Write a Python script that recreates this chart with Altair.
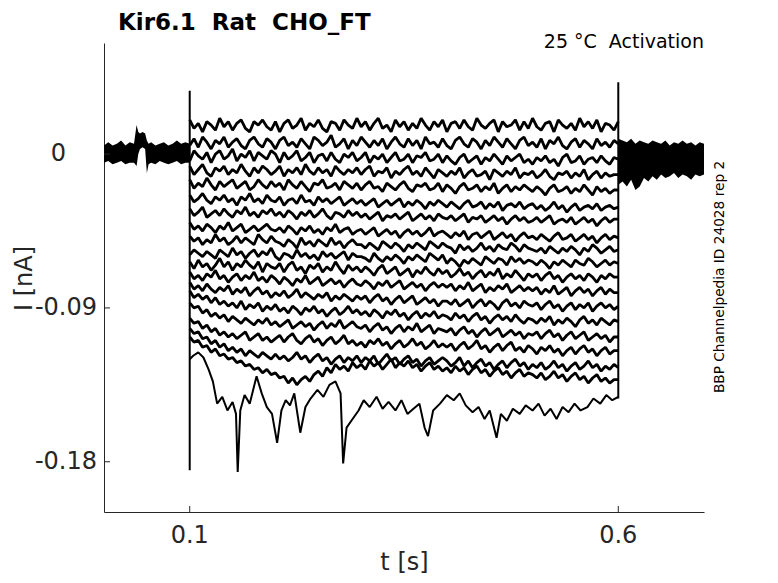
import altair as alt
import pandas as pd

# ---------------- data (current in pA) ----------------
T_GRID = [0.100, 0.105, 0.110, 0.115, 0.120, 0.125, 0.130, 0.135, 0.140, 0.145,
          0.150, 0.155, 0.160, 0.165, 0.170, 0.175, 0.180, 0.185, 0.190, 0.195,
          0.200, 0.205, 0.210, 0.215, 0.220, 0.225, 0.230, 0.235, 0.240, 0.245,
          0.250, 0.255, 0.260, 0.265, 0.270, 0.275, 0.280, 0.285, 0.290, 0.295,
          0.300, 0.305, 0.310, 0.315, 0.320, 0.325, 0.330, 0.335, 0.340, 0.345,
          0.350, 0.355, 0.360, 0.365, 0.370, 0.375, 0.380, 0.385, 0.390, 0.395,
          0.400, 0.405, 0.410, 0.415, 0.420, 0.425, 0.430, 0.435, 0.440, 0.445,
          0.450, 0.455, 0.460, 0.465, 0.470, 0.475, 0.480, 0.485, 0.490, 0.495,
          0.500, 0.505, 0.510, 0.515, 0.520, 0.525, 0.530, 0.535, 0.540, 0.545,
          0.550, 0.555, 0.560, 0.565, 0.570, 0.575, 0.580, 0.585, 0.590, 0.595,
          0.600]

I01 = [20, 15, 18, 13, 19, 17, 14, 21, 16, 19, 14, 18, 20, 15, 13, 19, 17, 20, 16, 14,
       19, 13, 18, 20, 15, 17, 21, 14, 18, 16, 20, 15, 13, 19, 18, 14, 20, 17, 15, 21,
       16, 19, 14, 18, 21, 15, 17, 13, 20, 16, 19, 14, 18, 15, 21, 17, 14, 19, 16, 20,
       13, 18, 19, 15, 20, 16, 14, 21, 17, 15, 18, 20, 13, 19, 16, 17, 20, 14, 19, 15,
       21, 16, 14, 18, 19, 13, 20, 17, 15, 18, 14, 21, 16, 19, 15, 20, 13, 18, 17, 14,
       19]
I02 = [5, 9, 4, 10, 7, 3, 8, 6, 10, 4, 7, 9, 5, 3, 8, 10, 6, 4, 9, 7,
       3, 8, 10, 5, 7, 4, 9, 6, 3, 10, 8, 5, 7, 11, 4, 6, 9, 3, 8, 5,
       10, 7, 4, 8, 5, 9, 3, 7, 10, 6, 4, 9, 5, 8, 3, 10, 6, 7, 4, 9,
       5, 3, 8, 10, 6, 4, 9, 7, 3, 8, 5, 10, 7, 4, 9, 6, 3, 8, 10, 5,
       7, 4, 9, 3, 8, 6, 10, 5, 3, 7, 9, 4, 8, 6, 3, 9, 5, 7, 4, 8,
       6]
I03 = [-4, 2, -1, -3, 1, -5, 0, 2, -3, -1, 3, -4, 0, -2, 2, -4, 1, -1, -3, 2,
       0, -5, 1, -3, -1, 2, -4, -2, 1, -5, -1, 0, -4, 1, -3, -5, 0, -2, 1, -4,
       -2, 1, -5, -1, -3, 0, -5, -2, 1, -4, -3, 0, -5, -1, -2, 1, -4, -3, 0, -5,
       -1, -4, -6, -2, 0, -5, -3, -1, -6, -2, -4, 0, -3, -6, -1, -4, -2, 0, -5, -3,
       -6, -2, -4, -1, -5, -3, -7, -2, 0, -5, -4, -1, -6, -3, -2, -5, -1, -4, -6, -2,
       -3]
I04 = [-7, -12, -9, -6, -11, -13, -8, -10, -7, -12, -9, -11, -6, -10, -13, -8, -11, -7, -9, -12,
       -10, -7, -13, -9, -11, -8, -12, -6, -10, -12, -8, -11, -9, -13, -7, -10, -12, -9, -11, -8,
       -12, -9, -7, -13, -10, -11, -8, -14, -10, -12, -9, -7, -12, -10, -13, -8, -11, -14, -9, -11,
       -13, -10, -12, -8, -14, -11, -9, -13, -12, -10, -15, -9, -11, -13, -10, -12, -8, -14, -11, -12,
       -10, -14, -12, -9, -13, -15, -11, -12, -10, -14, -11, -13, -9, -15, -12, -10, -14, -11, -13, -12,
       -12]
I05 = [-15, -20, -17, -19, -14, -18, -21, -16, -19, -17, -15, -20, -18, -16, -21, -19, -15, -18, -20, -16,
       -19, -17, -21, -15, -18, -20, -16, -19, -22, -17, -18, -15, -20, -19, -17, -21, -16, -18, -20, -17,
       -21, -18, -16, -20, -19, -22, -17, -19, -21, -18, -16, -20, -22, -18, -19, -17, -21, -20, -17, -22,
       -18, -20, -23, -19, -17, -21, -20, -18, -22, -19, -21, -17, -23, -20, -18, -22, -19, -21, -18, -20,
       -22, -19, -21, -24, -20, -18, -22, -21, -19, -23, -20, -22, -18, -21, -24, -19, -22, -20, -23, -21,
       -21]
I06 = [-24, -28, -26, -23, -27, -29, -25, -27, -24, -28, -26, -30, -25, -27, -23, -28, -26, -29, -24, -27,
       -28, -25, -30, -27, -26, -29, -24, -28, -27, -30, -25, -28, -26, -29, -27, -25, -30, -28, -26, -29,
       -27, -30, -28, -26, -31, -29, -27, -30, -28, -26, -31, -28, -30, -27, -29, -32, -28, -30, -27, -29,
       -31, -28, -30, -32, -29, -27, -31, -30, -28, -32, -29, -31, -28, -33, -30, -29, -31, -28, -32, -30,
       -29, -32, -30, -33, -31, -28, -32, -30, -34, -31, -29, -33, -31, -30, -32, -29, -33, -31, -30, -32,
       -31]
I07 = [-32, -36, -34, -31, -37, -35, -33, -36, -32, -35, -37, -33, -35, -31, -36, -34, -37, -33, -35, -32,
       -36, -34, -37, -33, -35, -38, -34, -36, -33, -37, -35, -32, -36, -38, -34, -35, -37, -33, -36, -34,
       -37, -35, -38, -36, -34, -39, -36, -37, -35, -38, -36, -34, -39, -37, -35, -38, -36, -39, -35, -37,
       -38, -36, -39, -37, -35, -40, -37, -38, -36, -40, -38, -36, -39, -37, -41, -38, -36, -39, -37, -40,
       -39, -37, -40, -38, -36, -41, -39, -38, -40, -37, -41, -39, -37, -40, -38, -42, -39, -37, -40, -38,
       -38]
I08 = [-40, -44, -42, -45, -41, -43, -46, -42, -44, -40, -45, -43, -41, -46, -44, -42, -45, -43, -41, -44,
       -45, -43, -46, -42, -44, -47, -43, -45, -42, -46, -44, -47, -43, -45, -41, -46, -44, -43, -47, -45,
       -44, -47, -45, -43, -48, -46, -44, -47, -45, -49, -46, -44, -47, -45, -48, -46, -43, -48, -46, -45,
       -47, -49, -46, -48, -45, -50, -47, -46, -49, -47, -45, -50, -48, -46, -49, -47, -51, -48, -46, -49,
       -48, -50, -47, -49, -51, -48, -46, -50, -49, -47, -51, -49, -47, -50, -48, -52, -49, -47, -50, -48,
       -49]
I09 = [-48, -51, -49, -53, -50, -52, -47, -51, -49, -53, -51, -48, -52, -49, -51, -53, -47, -50, -52, -48,
       -51, -52, -54, -50, -52, -55, -49, -53, -51, -54, -50, -52, -54, -49, -53, -51, -55, -52, -50, -53,
       -53, -55, -52, -54, -56, -51, -53, -55, -52, -54, -57, -53, -55, -52, -54, -56, -51, -53, -55, -52,
       -54, -55, -58, -53, -56, -54, -57, -55, -52, -56, -54, -57, -53, -55, -56, -52, -54, -57, -53, -55,
       -56, -57, -55, -58, -54, -56, -58, -55, -57, -54, -56, -59, -55, -57, -53, -55, -58, -56, -54, -57,
       -56]
I10 = [-59, -56, -58, -60, -57, -59, -61, -56, -58, -60, -55, -59, -57, -61, -58, -56, -60, -57, -59, -55,
       -60, -62, -58, -59, -61, -56, -60, -58, -61, -59, -62, -57, -60, -58, -61, -59, -57, -62, -58, -60,
       -60, -61, -63, -58, -61, -63, -60, -62, -59, -61, -64, -60, -62, -59, -61, -63, -58, -60, -62, -59,
       -64, -61, -63, -66, -62, -64, -61, -63, -65, -60, -62, -64, -61, -62, -65, -60, -63, -61, -64, -62,
       -63, -65, -62, -64, -67, -63, -65, -62, -64, -66, -62, -64, -65, -61, -63, -66, -64, -62, -65, -63,
       -64]
I11 = [-63, -67, -62, -66, -64, -68, -65, -61, -66, -63, -68, -64, -66, -62, -65, -67, -63, -69, -64, -66,
       -67, -64, -69, -65, -63, -68, -66, -70, -65, -67, -64, -69, -66, -68, -63, -67, -70, -65, -68, -66,
       -69, -66, -68, -71, -67, -65, -70, -68, -66, -71, -69, -67, -72, -68, -70, -66, -69, -71, -67, -70,
       -68, -72, -70, -67, -71, -69, -73, -70, -68, -72, -69, -71, -67, -73, -70, -72, -68, -71, -74, -70,
       -72, -70, -74, -71, -69, -73, -71, -75, -72, -70, -73, -71, -74, -70, -72, -75, -71, -73, -70, -72,
       -72]
I12 = [-69, -73, -71, -74, -70, -72, -68, -73, -71, -75, -72, -70, -74, -71, -73, -69, -74, -72, -75, -71,
       -73, -76, -72, -74, -77, -73, -75, -71, -76, -74, -72, -77, -75, -73, -76, -74, -78, -75, -73, -76,
       -77, -74, -76, -79, -75, -77, -74, -78, -76, -74, -79, -77, -75, -78, -76, -80, -77, -75, -78, -76,
       -78, -76, -80, -77, -79, -75, -80, -78, -76, -81, -78, -80, -77, -79, -76, -81, -79, -77, -80, -78,
       -80, -78, -82, -79, -81, -77, -82, -80, -78, -83, -80, -78, -81, -79, -83, -80, -78, -82, -79, -81,
       -81]
I13 = [-75, -79, -77, -80, -76, -79, -81, -78, -80, -77, -82, -79, -81, -78, -83, -80, -78, -82, -80, -84,
       -81, -83, -80, -84, -82, -79, -84, -81, -83, -85, -82, -84, -81, -86, -83, -85, -82, -84, -86, -83,
       -85, -83, -87, -84, -82, -86, -84, -88, -85, -83, -87, -85, -83, -88, -86, -84, -87, -85, -89, -86,
       -86, -88, -85, -89, -87, -85, -90, -87, -85, -89, -86, -88, -91, -87, -85, -89, -87, -90, -86, -88,
       -89, -87, -91, -88, -86, -90, -88, -92, -89, -87, -91, -88, -90, -87, -92, -89, -87, -90, -88, -91,
       -89]
I14 = [-80, -84, -82, -85, -83, -87, -84, -88, -86, -89, -87, -90, -86, -91, -88, -90, -87, -92, -89, -91,
       -88, -92, -90, -93, -89, -91, -94, -90, -92, -89, -93, -91, -95, -92, -90, -94, -92, -89, -93, -91,
       -94, -92, -95, -91, -93, -96, -92, -94, -91, -95, -93, -97, -94, -92, -96, -93, -95, -92, -96, -94,
       -95, -97, -93, -96, -94, -98, -95, -93, -97, -95, -99, -96, -94, -97, -95, -98, -94, -97, -99, -96,
       -97, -99, -96, -98, -95, -100, -97, -99, -96, -98, -101, -97, -95, -99, -97, -100, -96, -98, -100, -97,
       -98]
I15 = [-87, -90, -89, -93, -91, -95, -93, -96, -94, -98, -95, -97, -99, -96, -98, -100, -97, -99, -96, -100,
       -98, -101, -99, -97, -102, -100, -98, -101, -99, -103, -100, -98, -102, -99, -101, -97, -102, -100, -98, -101,
       -102, -100, -104, -101, -99, -103, -101, -105, -102, -100, -104, -101, -103, -99, -104, -102, -100, -105, -102, -103,
       -104, -102, -106, -103, -101, -105, -103, -107, -104, -102, -106, -104, -102, -107, -105, -103, -106, -104, -108, -105,
       -106, -104, -108, -105, -103, -107, -105, -109, -106, -104, -108, -106, -104, -109, -107, -105, -108, -106, -110, -107,
       -107]
I16 = [-96, -99, -98, -102, -100, -104, -102, -106, -104, -107, -105, -108, -106, -104, -109, -107, -105, -109, -107, -110,
       -108, -106, -110, -107, -105, -109, -111, -108, -106, -110, -108, -112, -109, -107, -111, -109, -106, -111, -109, -112,
       -110, -113, -109, -111, -108, -112, -110, -114, -111, -109, -113, -111, -108, -112, -110, -114, -112, -109, -113, -111,
       -113, -111, -115, -112, -110, -114, -112, -109, -114, -112, -116, -113, -111, -115, -112, -110, -115, -113, -116, -112,
       -114, -117, -113, -115, -112, -116, -114, -118, -115, -113, -117, -114, -112, -116, -114, -118, -115, -113, -117, -115,
       -115]
I17 = [-102, -105, -104, -108, -107, -111, -109, -113, -111, -115, -113, -116, -114, -118, -115, -117, -119, -116, -118, -120,
       -117, -120, -118, -121, -119, -116, -120, -118, -122, -119, -117, -121, -119, -123, -120, -118, -122, -119, -121, -118,
       -122, -119, -121, -118, -123, -120, -117, -121, -119, -123, -120, -118, -122, -120, -124, -121, -119, -123, -121, -119,
       -121, -124, -122, -119, -124, -121, -125, -122, -120, -124, -122, -126, -123, -121, -125, -122, -120, -124, -122, -126,
       -123, -125, -122, -126, -124, -121, -125, -123, -127, -124, -122, -126, -124, -121, -125, -123, -127, -124, -126, -123,
       -125]
I18 = [-107, -110, -109, -113, -112, -116, -114, -118, -117, -120, -119, -122, -121, -124, -123, -126, -125, -128, -126, -129,
       -128, -131, -130, -134, -131, -135, -132, -130, -133, -129, -127, -130, -125, -128, -123, -126, -124, -127, -122, -125,
       -123, -126, -121, -124, -122, -126, -123, -120, -125, -122, -124, -121, -125, -123, -127, -124, -122, -126, -124, -127,
       -125, -128, -124, -127, -125, -129, -126, -124, -128, -126, -130, -127, -125, -129, -127, -131, -128, -126, -130, -128,
       -129, -131, -128, -132, -130, -127, -131, -129, -133, -130, -128, -132, -130, -134, -131, -129, -133, -131, -134, -132,
       -132]

T_BOTTOM = [0.100, 0.104, 0.110, 0.116, 0.122, 0.127, 0.132, 0.138, 0.144, 0.150,
            0.154, 0.156, 0.159, 0.164, 0.170, 0.175, 0.178, 0.184, 0.190, 0.196,
            0.202, 0.207, 0.212, 0.217, 0.222, 0.229, 0.235, 0.241, 0.249, 0.256,
            0.263, 0.270, 0.276, 0.279, 0.283, 0.290, 0.297, 0.303, 0.310, 0.318,
            0.325, 0.332, 0.340, 0.347, 0.354, 0.361, 0.368, 0.374, 0.378, 0.384,
            0.392, 0.400, 0.408, 0.415, 0.422, 0.430, 0.437, 0.444, 0.450, 0.458,
            0.463, 0.470, 0.477, 0.485, 0.492, 0.500, 0.507, 0.514, 0.521, 0.528,
            0.535, 0.542, 0.549, 0.556, 0.564, 0.571, 0.579, 0.586, 0.593, 0.600]
I_BOTTOM = [-120, -118, -116, -119, -126, -133, -146, -142, -150, -145,
            -152, -186, -150, -141, -146, -136, -130, -140, -148, -152,
            -169, -150, -144, -147, -140, -163, -148, -143, -138, -142,
            -135, -133, -140, -181, -160, -155, -150, -144, -148, -142,
            -149, -145, -150, -144, -152, -149, -146, -160, -165, -150,
            -146, -141, -144, -140, -147, -151, -148, -155, -150, -166,
            -152, -156, -149, -152, -147, -150, -146, -153, -149, -155,
            -148, -151, -146, -150, -148, -143, -146, -141, -144, -142]

# baseline noise envelopes before and after the step (pA)
PRE_T = [0.000, 0.005, 0.010, 0.015, 0.020, 0.025, 0.030, 0.035, 0.038, 0.040,
         0.042, 0.045, 0.048, 0.050, 0.052, 0.055, 0.060, 0.065, 0.070, 0.075,
         0.080, 0.085, 0.090, 0.095, 0.100]
PRE_HI = [5, 7, 5, 6, 8, 5, 7, 6, 17, 13, 12, 13, 12, 8, 6, 7, 5, 6, 7, 5, 6, 8, 6, 7, 6]
PRE_LO = [-5, -4, -6, -5, -4, -6, -5, -5, -7, 0, 3, 4, 3, -11, -6, -5, -6, -4, -5, -6, -5, -4, -6, -5, -5]

POST_T = [0.600, 0.605, 0.610, 0.615, 0.620, 0.625, 0.630, 0.635, 0.640, 0.645,
          0.650, 0.655, 0.660, 0.665, 0.670, 0.675, 0.680, 0.685, 0.690, 0.695, 0.700]
POST_HI = [9, 8, 7, 9, 6, 8, 7, 6, 8, 7, 6, 8, 5, 7, 6, 8, 6, 7, 5, 7, 6]
POST_LO = [-18, -16, -19, -15, -21, -19, -14, -16, -13, -15, -12, -14, -13, -11, -14, -12, -13, -15, -12, -13, -12]

# capacitive transients at step on / off (pA)
SPIKE_T = [0.1, 0.1, 0.6, 0.6]
SPIKE_I = [37, -185, 42, -143]
SPIKE_ID = ["on", "on", "off", "off"]

X_TICKS = [0.1, 0.6]
X_TICK_LABELS = ["0.1", "0.6"]
Y_TICKS = [0, -0.09, -0.18]
Y_TICK_LABELS = ["0", "-0.09", "-0.18"]
X_DOMAIN = [0, 0.7]
Y_DOMAIN = [-0.2094, 0.0650]

TITLE = "Kir6.1  Rat  CHO_FT"
SUBTITLE = "25 °C  Activation"
SIDE_NOTE = "BBP Channelpedia ID 24028 rep 2"
X_TITLE = "t [s]"
Y_TITLE = "I [nA]"

# ---------------- build tables ----------------
TRACES = [I01, I02, I03, I04, I05, I06, I07, I08, I09, I10,
          I11, I12, I13, I14, I15, I16, I17, I18]
rows = []
for k, arr in enumerate(TRACES):
    for t, v in zip(T_GRID, arr):
        rows.append({"t": t, "i": v / 1000.0, "trace": f"s{k:02d}"})
df_tr = pd.DataFrame(rows)

rows2 = []
for t, v in zip(T_BOTTOM, I_BOTTOM):
    rows2.append({"t": t, "i": v / 1000.0, "trace": "s18"})
for t, v, s in zip(SPIKE_T, SPIKE_I, SPIKE_ID):
    rows2.append({"t": t, "i": v / 1000.0, "trace": s})
df_thin = pd.DataFrame(rows2)

df_pre = pd.DataFrame({"t": PRE_T, "lo": [v / 1000 for v in PRE_LO], "hi": [v / 1000 for v in PRE_HI]})
df_post = pd.DataFrame({"t": POST_T, "lo": [v / 1000 for v in POST_LO], "hi": [v / 1000 for v in POST_HI]})
df_yt = pd.DataFrame({"v": Y_TICKS, "lab": Y_TICK_LABELS})
df_xt = pd.DataFrame({"v": X_TICKS, "lab": X_TICK_LABELS})

FONT = "DejaVu Sans"
AX = "#262626"
NB = "\u00a0"

xs = alt.Scale(domain=X_DOMAIN, nice=False, zero=False)
ys = alt.Scale(domain=Y_DOMAIN, nice=False, zero=False)

x_axis = alt.Axis(values=X_TICKS, labels=False, ticks=False, grid=False,
                  domainColor=AX, domainWidth=1,
                  title=X_TITLE, titleFont=FONT, titleFontSize=24, titleFontWeight="normal",
                  titleColor=AX, titleX=300, titleY=57, titleAlign="center",
                  titleBaseline="alphabetic")
y_axis = alt.Axis(values=Y_TICKS, labels=False, ticks=False, grid=False,
                  domainColor=AX, domainWidth=1,
                  title=Y_TITLE, titleFont=FONT, titleFontSize=24, titleFontWeight="normal",
                  titleColor=AX, titleX=-73, titleY=235, titleAlign="center",
                  titleBaseline="alphabetic", titleAngle=270)

lines = alt.Chart(df_tr).mark_line(color="black", strokeWidth=2.8, strokeJoin="bevel").encode(
    x=alt.X("t:Q", scale=xs, axis=x_axis),
    y=alt.Y("i:Q", scale=ys, axis=y_axis),
    detail="trace:N")
thin = alt.Chart(df_thin).mark_line(color="black", strokeWidth=2.0, strokeJoin="bevel").encode(
    x=alt.X("t:Q", scale=xs),
    y=alt.Y("i:Q", scale=ys),
    detail="trace:N")

pre = alt.Chart(df_pre).mark_area(color="black", opacity=1).encode(
    x=alt.X("t:Q", scale=xs), y=alt.Y("lo:Q", scale=ys), y2="hi:Q")
post = alt.Chart(df_post).mark_area(color="black", opacity=1).encode(
    x=alt.X("t:Q", scale=xs), y=alt.Y("lo:Q", scale=ys), y2="hi:Q")

ytick = alt.Chart(df_yt).mark_rule(color=AX, strokeWidth=1).encode(
    y=alt.Y("v:Q", scale=ys), x=alt.value(0), x2=alt.value(6))
xtick = alt.Chart(df_xt).mark_rule(color=AX, strokeWidth=1).encode(
    x=alt.X("v:Q", scale=xs), y=alt.value(469), y2=alt.value(463))

# tick labels (MATLAB puts the lone "0" further left than the others)
ylab = alt.Chart(df_yt).transform_filter("datum.lab != '0'").mark_text(
    font=FONT, fontSize=24, align="right", baseline="middle", color=AX
).encode(text="lab:N", y=alt.Y("v:Q", scale=ys), x=alt.value(-7))
ylab0 = alt.Chart(df_yt).transform_filter("datum.lab == '0'").mark_text(
    font=FONT, fontSize=24, align="right", baseline="middle", color=AX
).encode(text="lab:N", y=alt.Y("v:Q", scale=ys), x=alt.value(-38))
xlab = alt.Chart(df_xt).mark_text(
    font=FONT, fontSize=24, align="center", baseline="top", color=AX
).encode(text="lab:N", x=alt.X("v:Q", scale=xs), y=alt.value(481))

title_txt = alt.Chart(pd.DataFrame({"s": [TITLE.replace("  ", NB + " ")]})).mark_text(
    font=FONT, fontSize=23, fontWeight="bold", align="left", baseline="alphabetic", color="black"
).encode(text="s:N", x=alt.value(14), y=alt.value(-13))
sub_txt = alt.Chart(pd.DataFrame({"s": [SUBTITLE.replace("  ", NB + " ")]})).mark_text(
    font=FONT, fontSize=19, align="right", baseline="alphabetic", color="black"
).encode(text="s:N", x=alt.value(600), y=alt.value(5))
side_txt = alt.Chart(pd.DataFrame({"s": [SIDE_NOTE]})).mark_text(
    font=FONT, fontSize=13.7, align="center", baseline="alphabetic", angle=270, color="black"
).encode(text="s:N", x=alt.value(620), y=alt.value(234))

chart = alt.layer(lines, thin, pre, post, ytick, xtick, ylab, ylab0, xlab,
                  title_txt, sub_txt, side_txt).properties(
    width=600, height=469,
    padding={"left": 96, "top": 35, "right": 66, "bottom": 63},
    autosize=alt.AutoSizeParams(type="none"),
    background="white",
).configure_view(stroke=None).configure_axis(grid=False)

chart.save("out.html", embed_options={"renderer": "svg", "actions": False})
